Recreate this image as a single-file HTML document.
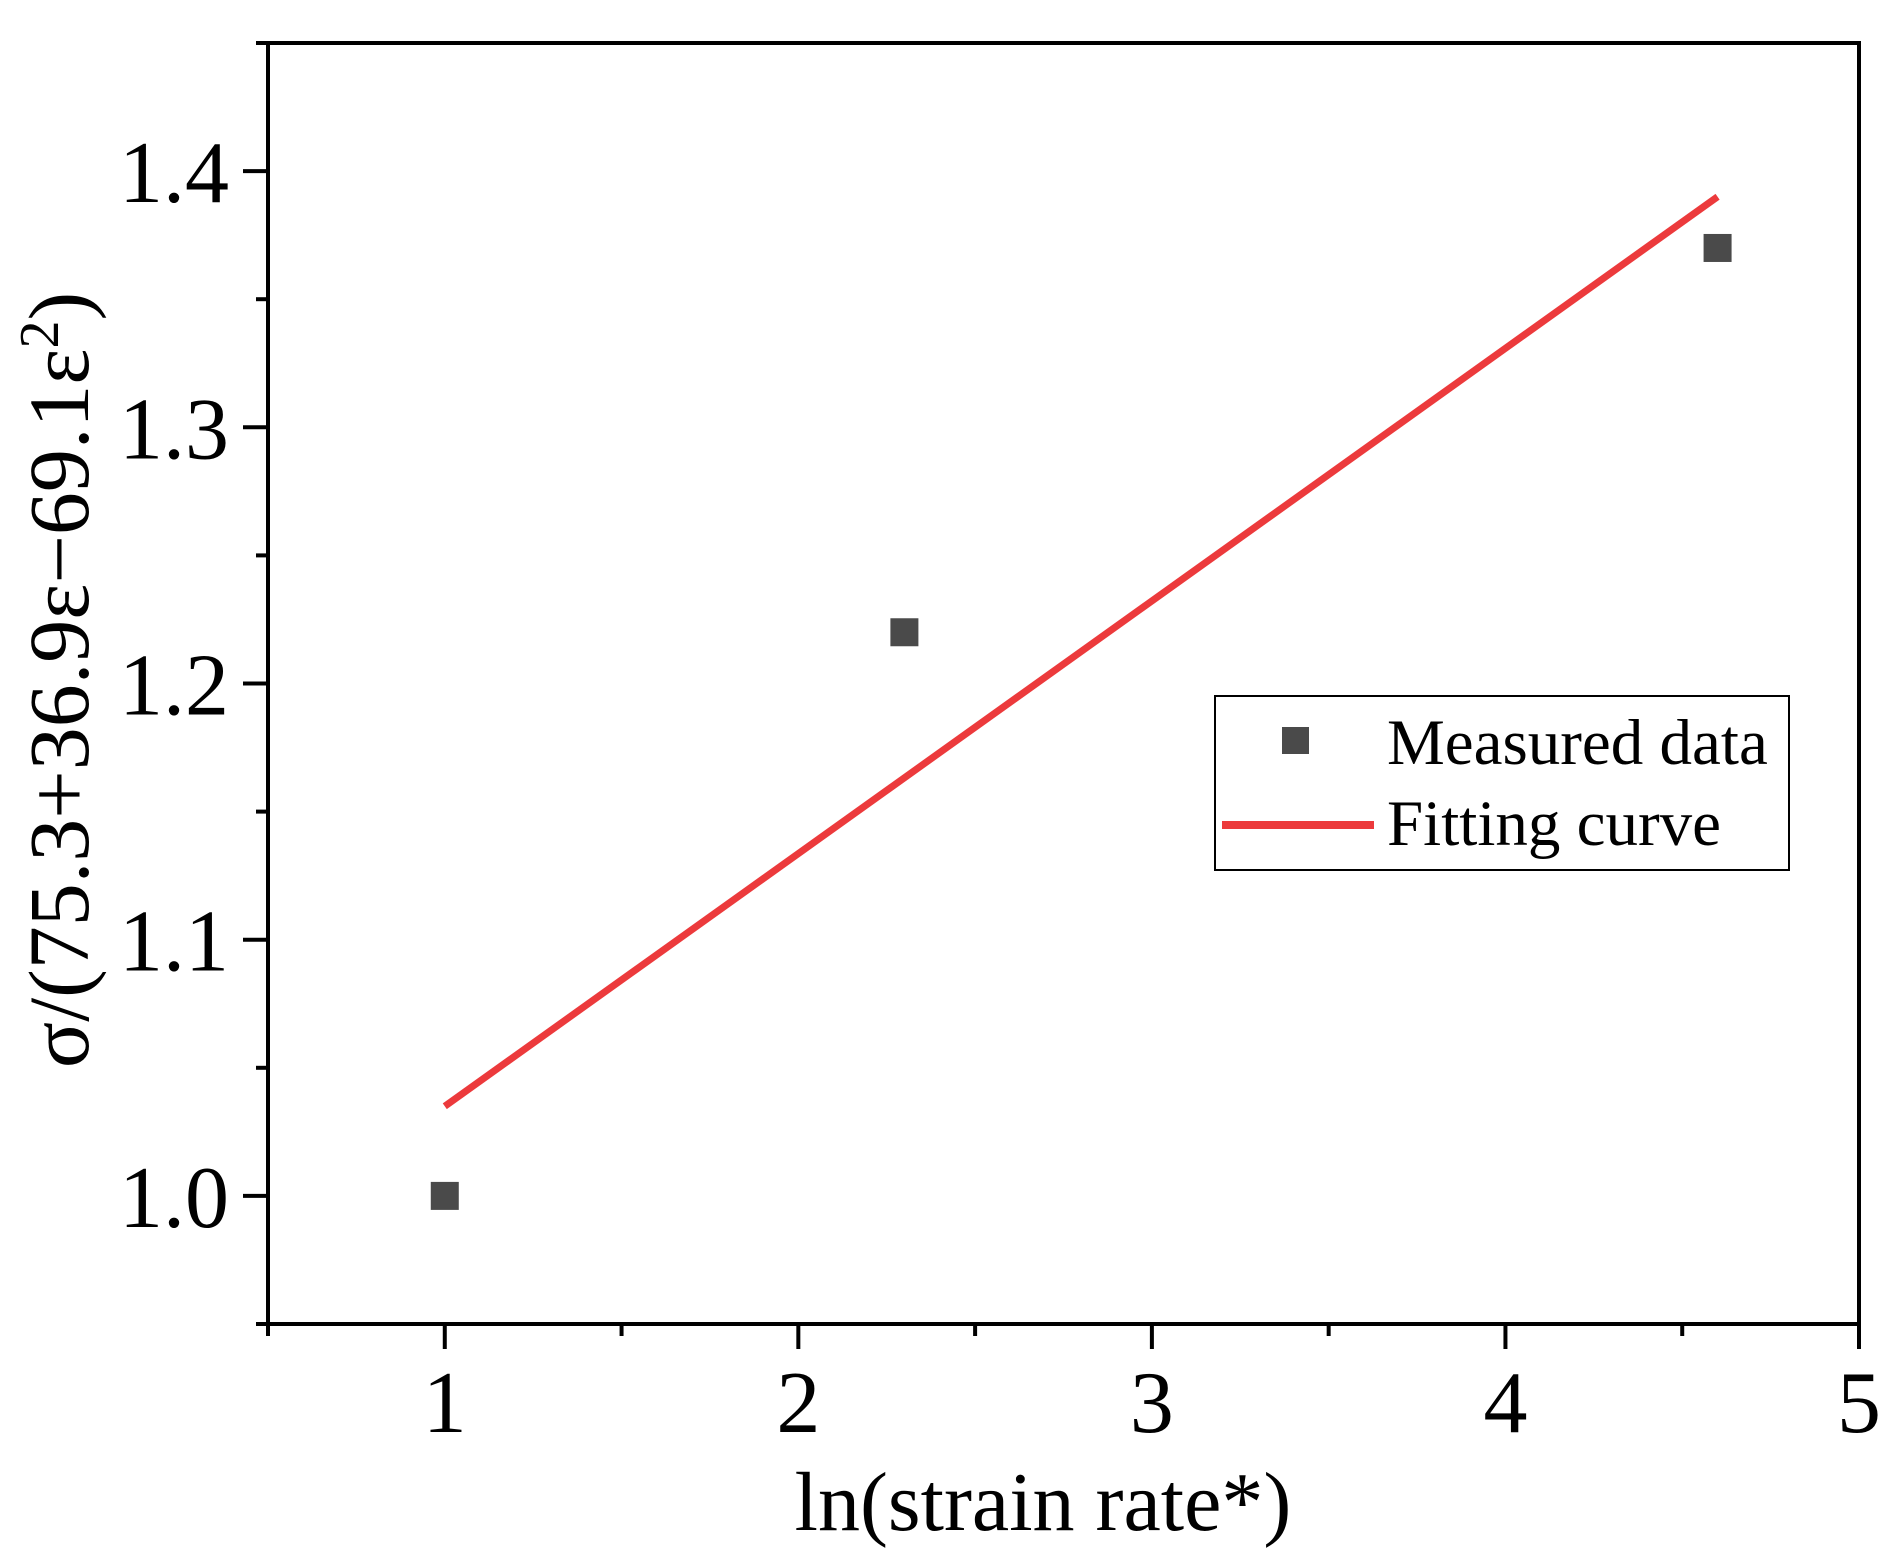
<!DOCTYPE html>
<html><head><meta charset="utf-8"><style>html,body{margin:0;padding:0;background:#fff}svg{display:block}text{font-family:"Liberation Serif",serif;fill:#000}</style></head>
<body>
<svg id="chart" width="1899" height="1558" viewBox="0 0 1899 1558" xmlns="http://www.w3.org/2000/svg">
</svg>
<script>
const xTicks=[1,2,3,4,5];
const yTicks=[1.0,1.1,1.2,1.3,1.4];
const yTickLabels=["1.0","1.1","1.2","1.3","1.4"];
const measuredX=[1,2.3,4.6];
const measuredY=[1.0,1.22,1.37];
const fitX=[1,4.6];
const fitY=[1.035,1.39];
const NS="http://www.w3.org/2000/svg";
const svg=document.getElementById('chart');
const L=268,R=1859,T=43,B=1324,xmin=0.5,xmax=5,ymin=0.95,ymax=1.45;
const sx=v=>L+(v-xmin)/(xmax-xmin)*(R-L);
const sy=v=>B-(v-ymin)/(ymax-ymin)*(B-T);
function mk(tag,attrs,parent){const e=document.createElementNS(NS,tag);for(const k in attrs)e.setAttribute(k,attrs[k]);(parent||svg).appendChild(e);return e;}
let fr=mk('rect',{x:L,y:T,width:R-L,height:B-T,fill:'none',stroke:'#000','stroke-width':4});


for(let v=0.5;v<=5.001;v+=0.5){const major=Math.abs(v-Math.round(v))<1e-6;
let t=mk('line',{x1:sx(v),x2:sx(v),y1:B,y2:B+(major?25:12),stroke:'#000','stroke-width':4});

}
xTicks.forEach(v=>{let t=mk('text',{x:sx(v),y:1432,'font-size':88,'text-anchor':'middle'});t.textContent=v;

});
for(let v=0.95;v<=1.4501;v+=0.05){const major=Math.abs(v*10-Math.round(v*10))<1e-6;
let t=mk('line',{x1:L,x2:L-(major?25:12),y1:sy(v),y2:sy(v),stroke:'#000','stroke-width':4});

}
yTicks.forEach((v,i)=>{let t=mk('text',{x:229,y:sy(v)+31,'font-size':88,'text-anchor':'end'});t.textContent=yTickLabels[i];

});
let xt=mk('text',{x:1043,y:1530,'font-size':84,'text-anchor':'middle'});xt.textContent='ln(strain rate*)';


let yt=mk('text',{x:0,y:0,'font-size':86,'text-anchor':'middle',transform:'translate(88,680) rotate(-90)'});
yt.innerHTML='σ/(75.3+36.9ε−69.1ε<tspan dy="-30" font-size="56">2</tspan><tspan dy="30">)</tspan>';


let fl=mk('line',{x1:sx(fitX[0]),y1:sy(fitY[0]),x2:sx(fitX[1]),y2:sy(fitY[1]),stroke:'#ec3a3c','stroke-width':7});


measuredX.forEach((x,i)=>{let p=mk('rect',{x:sx(x)-14,y:sy(measuredY[i])-14,width:28,height:28,fill:'#4a4a4a'});

});
let lg=mk('g',{});


mk('rect',{x:1215,y:696,width:574,height:174,fill:'#fff',stroke:'#000','stroke-width':2},lg);
mk('rect',{x:1282,y:727,width:27,height:27,fill:'#4a4a4a'},lg);
mk('line',{x1:1222,x2:1374,y1:825,y2:825,stroke:'#ec3a3c','stroke-width':8},lg);
let l1=mk('text',{x:1387,y:764,'font-size':65},lg);l1.textContent='Measured data';


let l2=mk('text',{x:1387,y:845,'font-size':65},lg);l2.textContent='Fitting curve';


</script>
</body></html>
